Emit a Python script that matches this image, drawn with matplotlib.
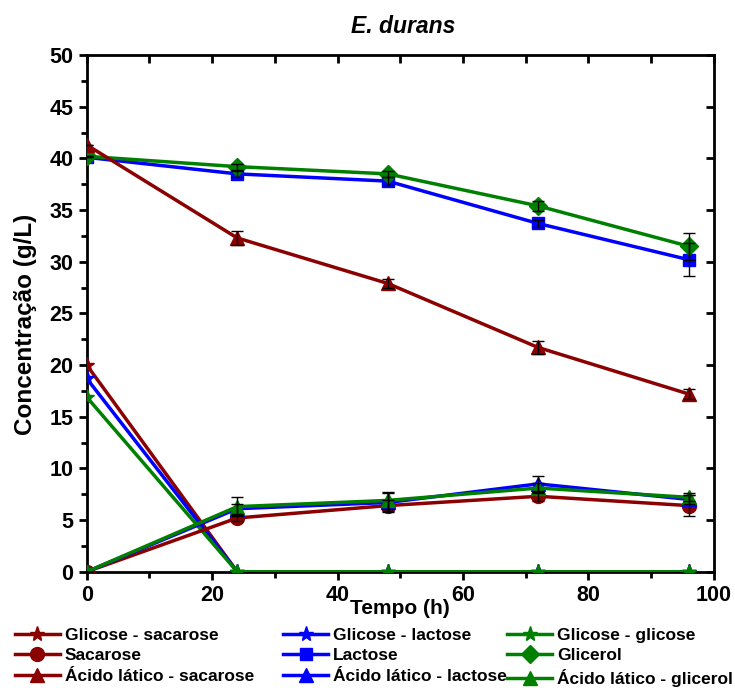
import matplotlib.pyplot as plt
from matplotlib.ticker import MultipleLocator

plt.rcParams['font.family'] = ['Liberation Sans', 'DejaVu Sans']
plt.rcParams['font.weight'] = 'bold'

tempo = [0, 24, 48, 72, 96]

glic_sacarose = [20.0, 0, 0, 0, 0]
glic_lactose = [18.7, 0, 0, 0, 0]
glic_glicose = [16.9, 0, 0, 0, 0]
sacarose = [0, 5.2, 6.4, 7.3, 6.4]
sacarose_err = [0, 0.3, 0.5, 0.5, 1.0]
lactose = [40.1, 38.5, 37.8, 33.7, 30.2]
lactose_err = [0, 0.3, 0.4, 0.3, 1.6]
glicerol = [40.2, 39.2, 38.5, 35.4, 31.5]
glicerol_err = [0, 0.3, 0.3, 0.5, 1.3]
acido_sacarose = [41.3, 32.3, 27.9, 21.7, 17.2]
acido_sacarose_err = [0, 0.7, 0.4, 0.6, 0.5]
acido_lactose = [0, 6.1, 6.7, 8.5, 7.0]
acido_lactose_err = [0, 0.5, 0.9, 0.8, 0.4]
acido_glicerol = [0, 6.3, 6.9, 8.1, 7.2]
acido_glicerol_err = [0, 0.9, 0.8, 0.5, 0.4]

red = '#8b0000'
blue = '#0000ff'
green = '#008000'

fig = plt.figure(figsize=(7.35, 6.88), dpi=100)
ax = fig.add_axes([0.118, 0.169, 0.853, 0.751])

series = [
    ('Glicose - sacarose', glic_sacarose, None, red, '*', 11),
    ('Glicose - lactose', glic_lactose, None, blue, '*', 11),
    ('Glicose - glicose', glic_glicose, None, green, '*', 11),
    ('Sacarose', sacarose, sacarose_err, red, 'o', 10),
    ('Lactose', lactose, lactose_err, blue, 's', 9),
    ('Glicerol', glicerol, glicerol_err, green, 'D', 9),
    ('Ácido lático - sacarose', acido_sacarose, acido_sacarose_err, red, '^', 10),
    ('Ácido lático - lactose', acido_lactose, acido_lactose_err, blue, '^', 10),
    ('Ácido lático - glicerol', acido_glicerol, acido_glicerol_err, green, '^', 10),
]

handles = []
for label, y, err, c, m, ms in series:
    h, = ax.plot(tempo, y, color=c, marker=m, markersize=ms, lw=2.5, label=label, zorder=3)
    handles.append(h)
    if err is not None:
        ax.errorbar(tempo, y, yerr=err, fmt='none', ecolor='black', elinewidth=1,
                    capsize=4, capthick=1, zorder=4)

ax.set_xlim(0, 100)
ax.set_ylim(0, 50)
ax.xaxis.set_major_locator(MultipleLocator(20))
ax.xaxis.set_minor_locator(MultipleLocator(10))
ax.yaxis.set_major_locator(MultipleLocator(5))
ax.yaxis.set_minor_locator(MultipleLocator(2.5))
ax.tick_params(axis='both', which='major', direction='out', length=6, width=2,
               labelsize=15.5)
ax.tick_params(axis='both', which='minor', direction='out', length=4, width=2)
for s in ax.spines.values():
    s.set_linewidth(2)

top = ax.secondary_xaxis('top')
top.xaxis.set_major_locator(MultipleLocator(10))
top.tick_params(direction='in', length=6, width=2, labeltop=False)
right = ax.secondary_yaxis('right')
right.yaxis.set_major_locator(MultipleLocator(5))
right.tick_params(direction='in', length=6, width=2, labelright=False)

ax.set_xlabel('Tempo (h)', fontsize=15, fontweight='bold', labelpad=-5)
ax.set_ylabel('Concentração (g/L)', fontsize=17.5, fontweight='bold')
ax.yaxis.set_label_coords(-0.08, 0.478)
ax.set_title('E. durans', fontsize=16.5, fontweight='bold', style='italic', pad=16, x=0.505)

# legend: three columns, filled row by row
col_x = [0.02, 0.385, 0.69]
for j in range(3):
    hs = [handles[j], handles[3 + j], handles[6 + j]]
    fig.legend(hs, [h.get_label() for h in hs], loc='upper left',
               bbox_to_anchor=(col_x[j], 0.088), frameon=False,
               fontsize=12.5, handlelength=2.6, handletextpad=0.3,
               labelspacing=0.32, borderaxespad=0, borderpad=0)

fig.savefig('out.png', dpi=100)
